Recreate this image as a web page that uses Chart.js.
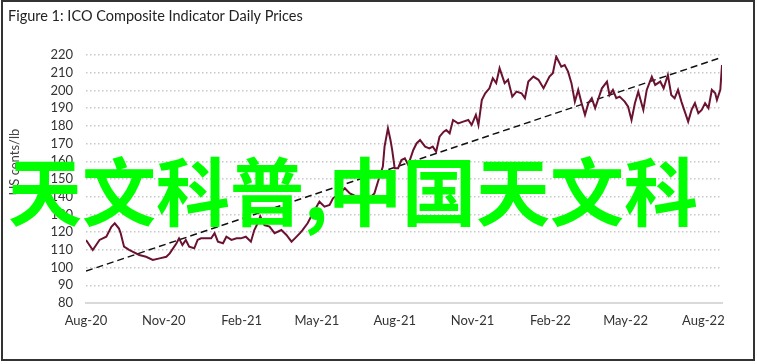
<!DOCTYPE html>
<html>
<head>
<meta charset="utf-8">
<script src="https://cdn.jsdelivr.net/npm/chart.js@4"></script>
<style>
  html, body { margin: 0; padding: 0; background: #fff; }
  #wrap { width: 757px; height: 364px; }
</style>
</head>
<body>
<div id="wrap"><canvas id="icoChart" width="757" height="364"></canvas></div>
<script>
// days since 3 Aug 2020 and ICO composite price (US cents/lb)
const priceDays = [
  0, 8, 16, 24, 30, 34, 39, 41, 45, 51,
  55, 63, 71, 79, 87, 95, 99, 107, 110, 114,
  118, 122, 128, 132, 136, 142, 148, 152, 156, 162,
  166, 172, 178, 183, 189, 195, 199, 203, 206, 211,
  217, 223, 231, 237, 243, 247, 253, 256, 262, 266,
  271, 276, 282, 288, 292, 300, 306, 312, 320, 327,
  335, 341, 347, 351, 353, 357, 360, 362, 365, 369,
  373, 377, 381, 387, 391, 395, 401, 406, 410, 414,
  418, 423, 426, 430, 434, 440, 446, 452, 456, 461,
  464, 468, 472, 477, 481, 485, 489, 495, 499, 504,
  509, 515, 519, 523, 529, 535, 541, 548, 552, 556,
  562, 566, 570, 574, 578, 582, 586, 590, 594, 598,
  602, 606, 610, 616, 619, 623, 627, 631, 637, 641,
  645, 649, 653, 659, 663, 669, 673, 679, 683, 688,
  692, 696, 700, 704, 708, 712, 716, 720, 724, 728,
  732, 736, 740, 744, 746, 750, 752
];
const priceValues = [
  115.6, 109.9, 115.6, 117.4, 123, 125, 122, 119.4, 111.8, 110,
  109, 107.1, 106.1, 104.3, 105.2, 106.1, 108, 113.7, 116.5, 112.7,
  115.6, 111.8, 110.9, 115.6, 116.5, 116.5, 116.5, 119.4, 114.6, 113.7,
  117.4, 115.6, 116.5, 116.5, 117.4, 114.6, 121.2, 125, 128.9, 124,
  123.1, 119.4, 121.2, 118.4, 114.6, 116.5, 119.4, 121.2, 125, 128.7,
  133, 137.2, 134.4, 135.3, 139.1, 141.9, 144.8, 141.9, 140, 140,
  139.1, 141.9, 151.3, 157, 168.3, 178.6, 172, 166.4, 156.1, 156.1,
  160.7, 161.7, 157.9, 166.4, 170.2, 172, 168.3, 167.3, 168.3, 165.4,
  173.9, 176.7, 177.7, 175.8, 183.3, 181.4, 182.4, 183.3, 180.5, 186.2,
  180.5, 194.6, 198.4, 201.2, 206.9, 204.1, 212.5, 204.1, 206, 196.5,
  199.3, 198.4, 195.6, 205, 207.8, 206, 201.2, 207.8, 209.7, 219.1,
  213.4, 214.3, 210.6, 204.1, 193.7, 200.3, 192.8, 186.2, 192.8, 195.6,
  190, 195.6, 201.2, 205, 197.4, 200.3, 195.6, 196.5, 193.7, 190.8,
  183.3, 192.8, 199.3, 189, 200.3, 207.8, 203.1, 205, 201.2, 208.7,
  197.4, 195.6, 200.3, 193.7, 188, 182.4, 189, 192.8, 187.1, 189,
  192.8, 190, 200.3, 198.4, 194.6, 200.3, 214.3
];

// linear trend (dashed)
const trendDays = [0, 752];
const trendValues = [98, 218.7];

const tickDays = [0, 92, 184, 273, 365, 457, 549, 638, 730];
const tickLabels = ['Aug-20', 'Nov-20', 'Feb-21', 'May-21', 'Aug-21', 'Nov-21', 'Feb-22', 'May-22', 'Aug-22'];

const titleText = 'Figure 1: ICO Composite Indicator Daily Prices';
const yAxisText = 'US cents/lb';
const overlayText = '天文科普,中国天文科';

const uiFont = 'Lato, "Open Sans", sans-serif';

// title, axis caption, frame and the green overlay
const decorPlugin = {
  id: 'decor',
  afterDraw(chart) {
    const ctx = chart.ctx;
    ctx.save();
    ctx.strokeStyle = '#333';
    ctx.lineWidth = 2;
    ctx.strokeRect(2, 1, 752, 359);

    ctx.fillStyle = '#222';
    ctx.font = '14.5px ' + uiFont;
    ctx.textBaseline = 'middle';
    ctx.textAlign = 'left';
    ctx.fillText(titleText, 8, 16);

    ctx.translate(15, 162);
    ctx.rotate(-Math.PI / 2);
    ctx.textAlign = 'center';
    ctx.font = '13px ' + uiFont;
    ctx.fillStyle = '#444';
    ctx.fillText(yAxisText, 0, 0);
    ctx.restore();

    ctx.save();
    ctx.fillStyle = '#00ff00';
    ctx.font = 'bold 74px "Noto Sans CJK SC"';
    ctx.textBaseline = 'middle';
    ctx.textAlign = 'left';
    ctx.fillText(overlayText, 8, 192);
    ctx.restore();
  }
};

new Chart(document.getElementById('icoChart'), {
  type: 'line',
  data: {
    datasets: [
      {
        label: 'ICO Composite',
        data: priceDays.map((d, i) => ({ x: d, y: priceValues[i] })),
        borderColor: '#6b1230',
        borderWidth: 2,
        pointRadius: 0,
        tension: 0
      },
      {
        label: 'Trend',
        data: trendDays.map((d, i) => ({ x: d, y: trendValues[i] })),
        borderColor: '#111',
        borderWidth: 1.5,
        borderDash: [7, 4],
        pointRadius: 0
      }
    ]
  },
  options: {
    responsive: false,
    animation: false,
    layout: { padding: { top: 55, right: 35, left: 0, bottom: 0 } },
    plugins: {
      legend: { display: false },
      tooltip: { enabled: false }
    },
    scales: {
      x: {
        type: 'linear',
        min: 0,
        max: 752,
        afterBuildTicks: (scale) => { scale.ticks = tickDays.map(v => ({ value: v })); },
        afterFit: (scale) => { scale.height = 61; },
        ticks: {
          autoSkip: false,
          maxRotation: 0,
          padding: 10,
          color: '#333',
          font: { family: uiFont, size: 13 },
          callback: (v) => tickLabels[tickDays.indexOf(v)]
        },
        grid: { display: false, drawTicks: false },
        border: { display: true, color: '#d9d9d9', width: 2 }
      },
      y: {
        min: 80,
        max: 220,
        afterFit: (scale) => { scale.width = 86; },
        ticks: {
          stepSize: 10,
          autoSkip: false,
          padding: 13,
          color: '#333',
          font: { family: uiFont, size: 13 }
        },
        grid: { color: '#c8c8c8', lineWidth: 1.5, drawTicks: false },
        border: { display: false, dash: [1.5, 2.5] }
      }
    }
  },
  plugins: [decorPlugin]
});
</script>
</body>
</html>
